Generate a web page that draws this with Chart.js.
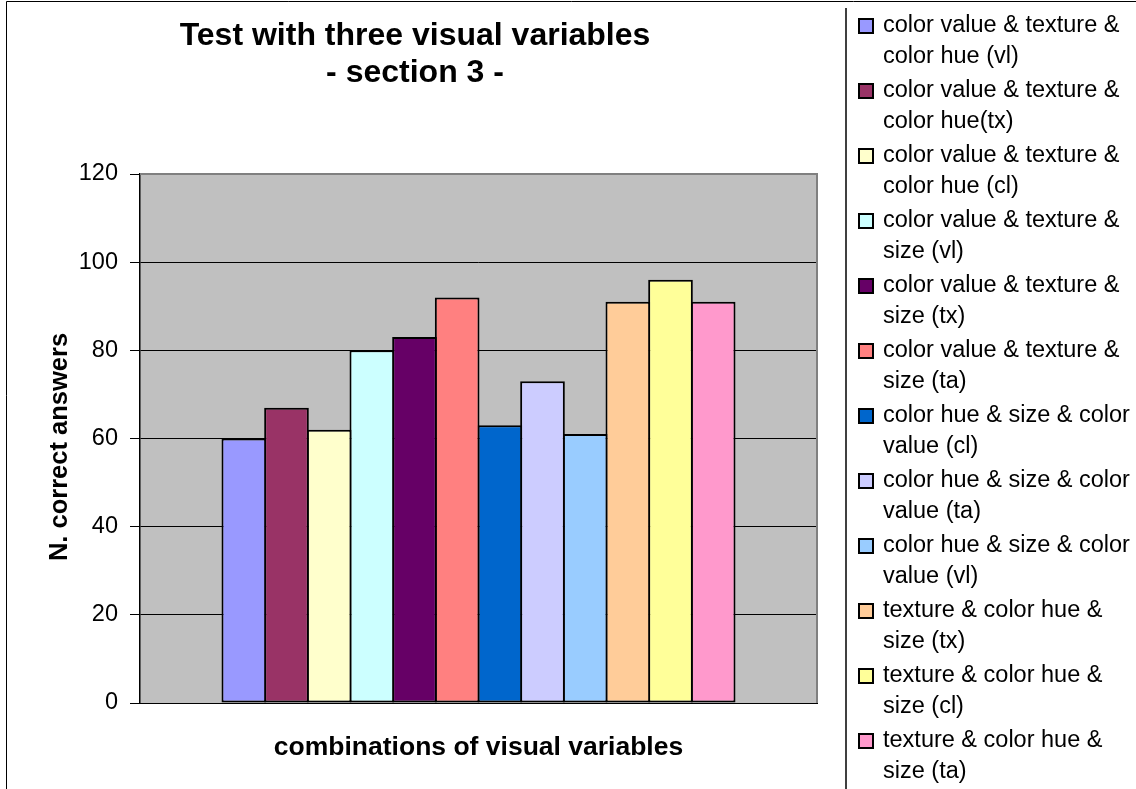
<!DOCTYPE html>
<html>
<head>
<meta charset="utf-8">
<title>Test with three visual variables - section 3 -</title>
<script src="https://cdn.jsdelivr.net/npm/chart.js@4.4.1/dist/chart.umd.min.js"></script>
<style>
  html, body { margin: 0; padding: 0; background: #fff; }
  canvas { display: block; }
</style>
</head>
<body>
<canvas id="chart" width="1136" height="789"></canvas>
<script>
const titleLines = ['Test with three visual variables', '- section 3 -'];
const xTitle = 'combinations of visual variables';
const yTitle = 'N. correct answers';

const categories = [''];
const seriesLabels = [
  'color value & texture & color hue (vl)',
  'color value & texture & color hue(tx)',
  'color value & texture & color hue (cl)',
  'color value & texture & size (vl)',
  'color value & texture & size (tx)',
  'color value & texture & size (ta)',
  'color hue & size & color value (cl)',
  'color hue & size & color value (ta)',
  'color hue & size & color value (vl)',
  'texture & color hue & size (tx)',
  'texture & color hue & size (cl)',
  'texture & color hue & size (ta)'
];
const correctAnswers = [60, 67, 62, 80, 83, 92, 63, 73, 61, 91, 96, 91];
const seriesColors = [
  '#9999FF', '#993366', '#FFFFCC', '#CCFFFF', '#660066', '#FF8080',
  '#0066CC', '#CCCCFF', '#99CCFF', '#FFCC99', '#FFFF99', '#FF99CC'
];
const yTicks = [0, 20, 40, 60, 80, 100, 120];

const FONT = '"Liberation Sans", Arial, Helvetica, sans-serif';

// break a legend label into lines that fit the legend column
function wrapText(ctx, text, maxWidth) {
  const words = text.split(' ');
  const lines = [];
  let line = '';
  words.forEach(w => {
    const test = line ? line + ' ' + w : w;
    if (line && ctx.measureText(test).width > maxWidth) {
      lines.push(line);
      line = w;
    } else {
      line = test;
    }
  });
  if (line) lines.push(line);
  return lines;
}

const excelFrame = {
  id: 'excelFrame',
  beforeDraw(chart) {
    const { ctx, chartArea: a } = chart;
    ctx.save();
    ctx.fillStyle = '#C0C0C0';
    ctx.fillRect(a.left, a.top, a.right - a.left, a.bottom - a.top);
    ctx.restore();
  },
  afterDraw(chart) {
    const { ctx, chartArea: a, width, height } = chart;
    ctx.save();

    // gray edge on top and right of the plot area
    ctx.strokeStyle = '#808080';
    ctx.lineWidth = 2;
    ctx.beginPath();
    ctx.moveTo(a.left, a.top);
    ctx.lineTo(a.right, a.top);
    ctx.lineTo(a.right, a.bottom);
    ctx.stroke();

    // outer chart border
    ctx.strokeStyle = '#000';
    ctx.lineWidth = 1;
    ctx.beginPath();
    ctx.moveTo(6.5, height);
    ctx.lineTo(6.5, 1.5);
    ctx.lineTo(width, 1.5);
    ctx.stroke();

    // titles
    ctx.fillStyle = '#000';
    ctx.textAlign = 'center';
    ctx.textBaseline = 'alphabetic';
    ctx.font = 'bold 32px ' + FONT;
    ctx.fillText(titleLines[0], 415, 45);
    ctx.fillText(titleLines[1], 415, 82);

    ctx.font = 'bold 26.5px ' + FONT;
    ctx.fillText(xTitle, (a.left + a.right) / 2, 755);

    ctx.save();
    ctx.translate(67, 447);
    ctx.rotate(-Math.PI / 2);
    ctx.font = 'bold 25.5px ' + FONT;
    ctx.fillText(yTitle, 0, 0);
    ctx.restore();

    // legend box
    ctx.strokeStyle = '#000';
    ctx.lineWidth = 1.5;
    ctx.beginPath();
    ctx.moveTo(846, 8);
    ctx.lineTo(846, height);
    ctx.stroke();

    ctx.font = '23.5px ' + FONT;
    ctx.textAlign = 'left';
    chart.data.datasets.forEach((ds, i) => {
      const base = 32 + 65 * i;
      ctx.fillStyle = ds.backgroundColor;
      ctx.fillRect(859, base - 13, 14, 14);
      ctx.strokeStyle = '#000';
      ctx.lineWidth = 2;
      ctx.strokeRect(859, base - 13, 14, 14);
      ctx.fillStyle = '#000';
      wrapText(ctx, ds.label, 252).forEach((ln, j) => {
        ctx.fillText(ln, 883, base + 31 * j);
      });
    });

    ctx.restore();
  }
};

const datasets = seriesLabels.map((label, i) => ({
  label: label,
  data: [correctAnswers[i]],
  backgroundColor: seriesColors[i],
  borderColor: '#000',
  borderWidth: 2,
  borderSkipped: false,
  categoryPercentage: 0.7563,
  barPercentage: 1.047
}));

new Chart(document.getElementById('chart'), {
  type: 'bar',
  data: { labels: categories, datasets: datasets },
  plugins: [excelFrame],
  options: {
    responsive: false,
    animation: false,
    layout: { padding: { top: 174, right: 319, bottom: 0, left: 0 } },
    plugins: {
      legend: { display: false },
      title: { display: false },
      tooltip: { enabled: false }
    },
    scales: {
      x: {
        ticks: { display: false },
        grid: { display: false, drawTicks: false },
        border: { display: true, color: '#000', width: 1 },
        afterFit(scale) { scale.height = 86; }
      },
      y: {
        min: yTicks[0],
        max: yTicks[yTicks.length - 1],
        ticks: {
          stepSize: yTicks[1] - yTicks[0],
          color: '#000',
          padding: 12,
          font: { family: FONT, size: 23.5 }
        },
        grid: {
          color: ctx => (ctx.tick && ctx.tick.value === yTicks[yTicks.length - 1]) ? 'rgba(0,0,0,0)' : '#000',
          tickColor: '#000',
          tickLength: 10,
          lineWidth: 1
        },
        border: { color: '#000', width: 1.5 },
        afterFit(scale) { scale.width = 140; }
      }
    }
  }
});
</script>
</body>
</html>
